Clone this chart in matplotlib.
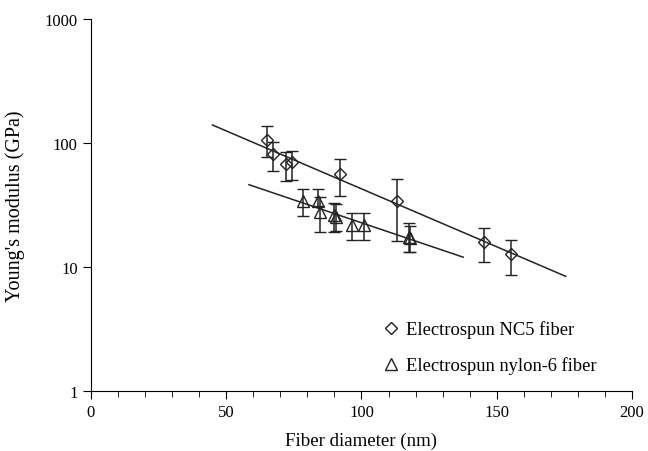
import matplotlib
matplotlib.use('Agg')
import matplotlib.pyplot as plt
from matplotlib.lines import Line2D
from matplotlib.ticker import MultipleLocator, FixedLocator, NullLocator
import numpy as np

plt.rcParams['font.family'] = ['Liberation Serif', 'DejaVu Serif']

# NC5 fiber data
nc5_d = [64.9, 67.2, 72.1, 74.2, 92.0, 113.0, 145.3, 155.2]
nc5_e = [106, 81.5, 67.7, 69.9, 56.2, 34.3, 16.0, 12.7]
nc5_hi = [138, 102.6, 84, 85.7, 74.3, 51.3, 20.6, 16.6]
nc5_lo = [76.6, 59.8, 49.6, 50.6, 37.6, 16.1, 10.9, 8.67]

# nylon-6 fiber data
ny_d = [78.5, 84.0, 84.5, 89.8, 90.4, 96.6, 100.9, 117.4, 118.0]
ny_e = [34.3, 34.3, 27.9, 26.3, 25.3, 21.8, 21.8, 17.4, 17.0]
ny_hi = [42.6, 42.6, 36.5, 32.8, 32.0, 27.1, 27.1, 22.6, 21.5]
ny_lo = [25.9, 31.2, 19.1, 19.3, 19.6, 16.5, 16.5, 13.1, 13.3]

# fitted lines (endpoints)
nc5_fit_x = [44.9, 175.5]
nc5_fit_y = [139.7, 8.41]
ny_fit_x = [58.4, 137.6]
ny_fit_y = [46.1, 12.0]

fig = plt.figure(figsize=(6.48, 4.52), dpi=100)
ax = fig.add_axes([0.1404, 0.1327, 0.8349, 0.8231])

ax.plot(nc5_fit_x, nc5_fit_y, color='#222222', lw=1.1)
ax.plot(ny_fit_x, ny_fit_y, color='#222222', lw=1.1)

for d, e, hi, lo, mk, ms in [(nc5_d, nc5_e, nc5_hi, nc5_lo, 'D', 6.5),
                             (ny_d, ny_e, ny_hi, ny_lo, '^', 8)]:
    d = np.array(d)
    e = np.array(e)
    yerr = [e - np.array(lo), np.array(hi) - e]
    ax.errorbar(d, e, yerr=yerr, fmt=mk, ms=ms, mfc='none', mec='#222222',
                mew=1.0, ecolor='#222222', elinewidth=1.1, capsize=4, capthick=1.1)

ax.set_yscale('log')
ax.set_xlim(0, 200)
ax.set_ylim(1, 1000)
ax.xaxis.set_major_locator(MultipleLocator(50))
ax.xaxis.set_minor_locator(MultipleLocator(10))
ax.yaxis.set_major_locator(FixedLocator([1, 10, 100, 1000]))
ax.yaxis.set_minor_locator(NullLocator())
ax.set_yticklabels(['1', '10', '100', '1000'])
ax.spines['top'].set_visible(False)
ax.spines['right'].set_visible(False)
ax.tick_params(which='major', direction='out', length=6, labelsize=12)
ax.tick_params(which='minor', direction='out', length=4)

ax.set_xlabel('Fiber diameter (nm)', fontsize=13.6, labelpad=8)
ax.set_ylabel("Young's modulus (GPa)", fontsize=14.5, labelpad=14)

handles = [Line2D([], [], ls='none', marker='D', ms=6.5, mfc='none', mec='#222222'),
           Line2D([], [], ls='none', marker='^', ms=8, mfc='none', mec='#222222')]
ax.legend(handles, ['Electrospun NC5 fiber', 'Electrospun nylon-6 fiber'],
          frameon=False, fontsize=13.3, loc='lower left', bbox_to_anchor=(0.51, 0.0),
          handlelength=0.8, handletextpad=0.4, labelspacing=1.0)

fig.savefig('out.png', dpi=100)
